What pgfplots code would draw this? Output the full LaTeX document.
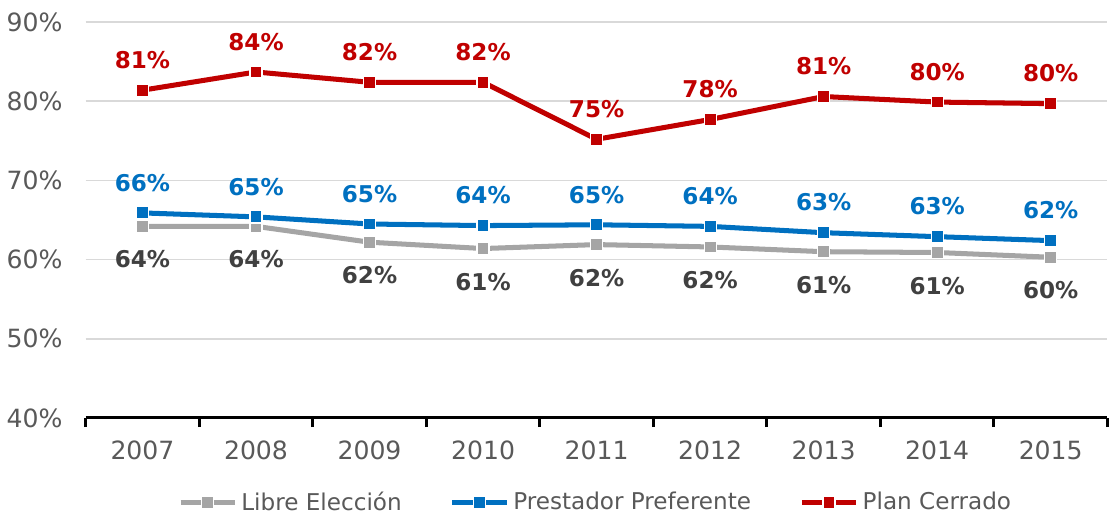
\documentclass[border=0pt]{standalone}
\usepackage{pgfplots}
\pgfplotsset{compat=1.18}
\usepackage{fontspec}
\setmainfont{DejaVu Sans}
\definecolor{cerrado}{HTML}{C00000}
\definecolor{prestador}{HTML}{0070C0}
\definecolor{libre}{HTML}{A5A5A5}
\definecolor{labgray}{HTML}{404040}
\definecolor{tickgray}{HTML}{595959}
\definecolor{gridgray}{HTML}{D9D9D9}
\begin{document}
\begin{tikzpicture}
\begin{axis}[
    scale only axis,
    width=508.5pt, height=197pt,
    xmin=-0.5, xmax=8.5,
    ymin=40, ymax=90,
    ytick={40,50,...,90},
    yticklabel={\pgfmathprintnumber{\tick}\%},
    /pgf/number format/assume math mode=true,
    xtick={0,...,8},
    xticklabels={2007,2008,2009,2010,2011,2012,2013,2014,2015},
    minor xtick={-0.5,0.5,...,8.5},
    major tick length=0pt,
    minor tick length=4.5pt,
    tick align=outside,
    minor tick style={black, line width=1.5pt},
    axis x line*=bottom,
    axis y line*=left,
    y axis line style={draw=none},
    x axis line style={black, line width=1.5pt, -},
    ymajorgrids,
    grid style={gridgray, line width=0.8pt},
    tick label style={font=\fontsize{12.5}{14}\selectfont, text=tickgray},
    yticklabel style={xshift=-8pt},
    xticklabel style={yshift=-8pt},
    nodes near coords,
    point meta=explicit symbolic,
    every node near coord/.append style={font=\bfseries\fontsize{11.5}{13}\selectfont},
    clip=false,
    legend style={at={(0.5,0)}, yshift=-42pt, anchor=center, draw=none,
        font=\fontsize{11.5}{14}\selectfont, text=tickgray,
        legend columns=3, column sep=0pt, inner sep=0pt,
        /tikz/every even column/.append style={column sep=22pt}},
    legend cell align=left,
    legend image code/.code={
        \draw[#1, mark=none, line width=2.5pt] (0pt,0pt) -- (27pt,0pt);
        \draw[#1, only marks, mark repeat=1] plot coordinates {(13.5pt,0pt)};
    },
]
\addplot[libre, line width=2.5pt, mark=square*, mark size=3pt,
    mark options={fill=libre, draw=white, line width=0.6pt},
    every node near coord/.append style={anchor=center, yshift=-16.5pt, text=labgray}]
coordinates {
(0,64.2)[64\%] (1,64.2)[64\%] (2,62.2)[62\%] (3,61.4)[61\%] (4,61.9)[62\%]
(5,61.6)[62\%] (6,61.0)[61\%] (7,60.9)[61\%] (8,60.3)[60\%]
};
\addlegendentry{Libre Elección}
\addplot[prestador, line width=2.5pt, mark=square*, mark size=3pt,
    mark options={fill=prestador, draw=white, line width=0.6pt},
    every node near coord/.append style={anchor=center, yshift=15pt, text=prestador}]
coordinates {
(0,65.9)[66\%] (1,65.4)[65\%] (2,64.5)[65\%] (3,64.3)[64\%] (4,64.4)[65\%]
(5,64.2)[64\%] (6,63.4)[63\%] (7,62.9)[63\%] (8,62.4)[62\%]
};
\addlegendentry{Prestador Preferente}
\addplot[cerrado, line width=2.5pt, mark=square*, mark size=3pt,
    mark options={fill=cerrado, draw=white, line width=0.6pt},
    every node near coord/.append style={anchor=center, yshift=15pt, text=cerrado}]
coordinates {
(0,81.4)[81\%] (1,83.7)[84\%] (2,82.4)[82\%] (3,82.4)[82\%] (4,75.2)[75\%]
(5,77.7)[78\%] (6,80.6)[81\%] (7,79.9)[80\%] (8,79.7)[80\%]
};
\addlegendentry{Plan Cerrado}
% room above the top gridline, as in the reference
\path (rel axis cs:0,1) -- ++(0pt,11pt);
\end{axis}
\end{tikzpicture}
\end{document}
